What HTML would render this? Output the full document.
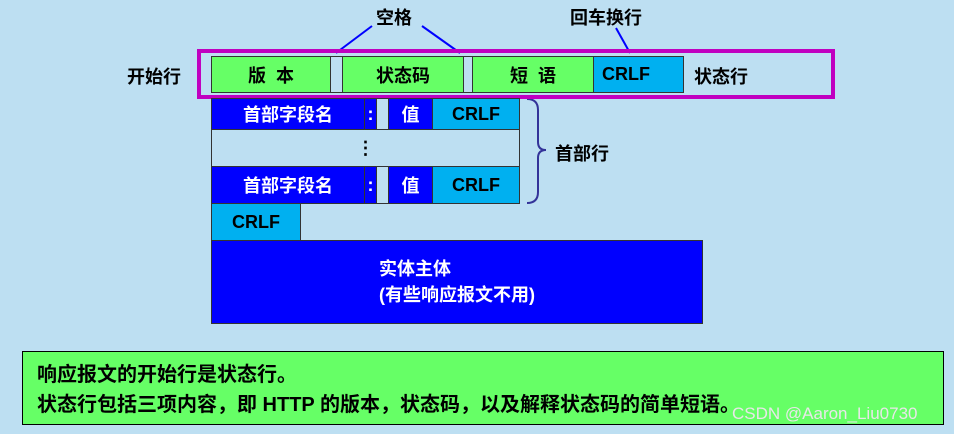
<!DOCTYPE html>
<html><head><meta charset="utf-8"><style>
body{margin:0;width:954px;height:434px;background:#bddff2;position:relative;overflow:hidden;font-family:"Liberation Sans","Noto Sans CJK SC",sans-serif;font-weight:bold;}
.a{position:absolute;box-sizing:border-box;display:flex;align-items:center;justify-content:center;font-size:18px;color:#000;}
.g{background:#66ff66;border:1px solid #333;}
.c{background:#00b0f0;border:1px solid #333;}
.b{background:#0000ff;color:#fff;border:1px solid #333;}
.l{background:#bddff2;border:1px solid #333;}
.t{position:absolute;font-size:18px;white-space:nowrap;}
</style></head><body>
<svg style="position:absolute;left:0;top:0" width="954" height="434">
<line x1="372" y1="26" x2="336" y2="53" stroke="#0000ff" stroke-width="2"/>
<line x1="422" y1="26" x2="460" y2="53" stroke="#0000ff" stroke-width="2"/>
<line x1="616" y1="28" x2="630" y2="53" stroke="#0000ff" stroke-width="2"/>
<path d="M527 99 Q538 99 538 110 L538 142 Q538 150 546 150 Q538 150 538 158 L538 192 Q538 203 527 203" fill="none" stroke="#333399" stroke-width="2"/>
</svg>
<div class="t" style="left:376px;top:4px">空格</div>
<div class="t" style="left:570px;top:4px">回车换行</div>
<div class="t" style="left:127px;top:63px">开始行</div>
<div class="a" style="left:197px;top:49px;width:638px;height:50px;border:4px solid #c000c0;"></div>
<div class="a g" style="left:211px;top:56px;width:120px;height:37px">版&nbsp;&nbsp;本</div>
<div class="a l" style="left:330px;top:56px;width:13px;height:37px"></div>
<div class="a g" style="left:342px;top:56px;width:122px;height:37px">状态码</div>
<div class="a l" style="left:463px;top:56px;width:10px;height:37px"></div>
<div class="a g" style="left:472px;top:56px;width:122px;height:37px">短&nbsp;&nbsp;语</div>
<div class="a c" style="left:593px;top:56px;width:91px;height:37px;justify-content:flex-start;padding-left:8px">CRLF</div>
<div class="t" style="left:694px;top:63px">状态行</div>

<div class="a b" style="left:211px;top:98px;width:154px;height:32px">首部字段名</div>
<div class="a b" style="left:364px;top:98px;width:13px;height:32px">:</div>
<div class="a l" style="left:376px;top:98px;width:13px;height:32px"></div>
<div class="a b" style="left:388px;top:98px;width:45px;height:32px">值</div>
<div class="a c" style="left:432px;top:98px;width:88px;height:32px">CRLF</div>
<div class="a l" style="left:211px;top:129px;width:309px;height:38px">⋮</div>
<div class="a b" style="left:211px;top:166px;width:154px;height:38px">首部字段名</div>
<div class="a b" style="left:364px;top:166px;width:13px;height:38px">:</div>
<div class="a l" style="left:376px;top:166px;width:13px;height:38px"></div>
<div class="a b" style="left:388px;top:166px;width:45px;height:38px">值</div>
<div class="a c" style="left:432px;top:166px;width:88px;height:38px">CRLF</div>
<div class="t" style="left:555px;top:140px">首部行</div>
<div class="a c" style="left:211px;top:203px;width:90px;height:38px">CRLF</div>
<div class="a b" style="left:211px;top:240px;width:492px;height:84px;flex-direction:column;line-height:26px">实体主体<br>(有些响应报文不用)</div>

<div class="a g" style="left:22px;top:351px;width:922px;height:74px;display:block;padding:8px 0 0 14px;font-size:20px;line-height:30px;border-color:#000">响应报文的开始行是状态行。<br>状态行包括三项内容，即 HTTP 的版本，状态码，以及解释状态码的简单短语。</div>
<div class="t" style="left:732px;top:404px;font-size:17px;font-weight:normal;color:#e8e8e8">CSDN @Aaron_Liu0730</div>
</body></html>
